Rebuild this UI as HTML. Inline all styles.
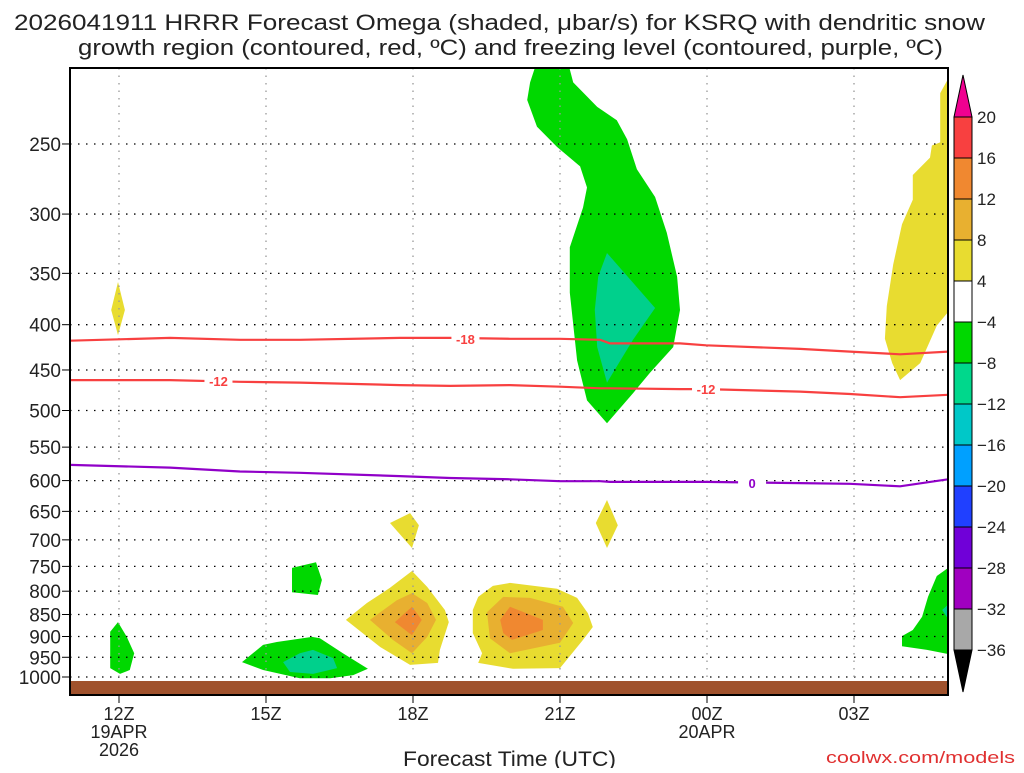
<!DOCTYPE html>
<html><head><meta charset="utf-8"><style>
body{margin:0;background:#fff;}
svg text{font-family:"Liberation Sans","DejaVu Sans",sans-serif;}
</style></head><body>
<svg id="c" width="1024" height="768" xmlns="http://www.w3.org/2000/svg">
<defs><clipPath id="plotclip"><rect x="70" y="68" width="878" height="627"/></clipPath></defs>
<text x="14" y="30" font-size="22" textLength="971" lengthAdjust="spacingAndGlyphs" fill="#222">2026041911 HRRR Forecast Omega (shaded, μbar/s) for KSRQ with dendritic snow</text>
<text x="78" y="55" font-size="22" textLength="865" lengthAdjust="spacingAndGlyphs" fill="#222">growth region (contoured, red, ºC) and freezing level (contoured, purple, ºC)</text>
<g id="shade" clip-path="url(#plotclip)"></g>
<g id="grid"></g>
<g id="lines" clip-path="url(#plotclip)"></g>
<rect x="70" y="681" width="878" height="14" fill="#a0522d"/>
<rect x="70" y="68" width="878" height="627" fill="none" stroke="#000" stroke-width="2"/>
<g id="axes"></g>
<g id="cbar"></g>
<text x="403" y="766" font-size="21" textLength="213" lengthAdjust="spacingAndGlyphs" fill="#222">Forecast Time (UTC)</text>
<text x="826" y="763" font-size="17" textLength="189" lengthAdjust="spacingAndGlyphs" fill="#e03030">coolwx.com/models</text>
</svg>
<script>
// ---- data (hour offset from 12Z 19APR, pressure hPa) ----
const pressureTicks = [250,300,350,400,450,500,550,600,650,700,750,800,850,900,950,1000];
const hourTicks = [0,3,6,9,12,15];
const hourLabels = ["12Z","15Z","18Z","21Z","00Z","03Z"];
const dateLabels = {0:["19APR","2026"],12:["20APR"]};
const cbarLevels = [20,16,12,8,4,-4,-8,-12,-16,-20,-24,-28,-32,-36];
const cbarColors = ["#f84040","#f08830","#e8b030","#e8dc30","#ffffff","#00d800","#00d88c","#00c8c8","#00a0ff","#2040ff","#7000d8","#a000c0","#a8a8a8"];
const yellowAreas = [
 [[-0.02,358],[0.12,385],[-0.02,411],[-0.16,385]],
 [[5.53,670],[5.94,653],[6.12,674],[5.98,715]],
 [[9.96,631],[10.18,674],[9.96,715],[9.73,670]],
 [[5.98,759],[6.29,791],[6.65,840],[6.73,867],[6.55,932],[6.51,964],[5.94,969],[5.33,925],[4.63,862],[5.06,825],[5.53,793]],
 [[7.22,840],[7.33,812],[7.63,789],[7.98,783],[8.94,795],[9.35,814],[9.57,847],[9.67,878],[9.47,908],[9.0,977],[8.04,979],[7.33,964],[7.41,940],[7.22,892]],
 [[16.92,205],[16.92,211],[16.76,219],[16.76,226],[16.76,249],[16.59,251],[16.55,259],[16.2,271],[16.2,289],[15.98,308],[15.8,342],[15.67,381],[15.63,415],[15.78,442],[15.94,462],[16.35,442],[16.69,401],[16.92,387],[17.2,380],[17.2,205]]
];
const amberAreas = [
 [[5.12,862],[5.67,819],[5.98,804],[6.29,825],[6.47,862],[6.29,901],[5.98,940],[5.59,908]],
 [[7.51,845],[7.84,812],[8.39,814],[9.06,833],[9.27,869],[9.0,915],[7.98,940],[7.57,904]]
];
const orangeAreas = [
 [[5.63,867],[5.98,833],[6.18,862],[5.98,897]],
 [[7.78,862],[7.98,833],[8.65,862],[8.65,885],[8.02,908],[7.84,892]]
];
const greenAreas = [
 [[8.55,200],[9.14,200],[9.27,213],[9.76,227],[10.16,235],[10.37,247],[10.57,267],[10.94,287],[11.18,315],[11.39,353],[11.45,385],[11.31,424],[10.84,453],[10.49,478],[9.96,517],[9.55,487],[9.35,439],[9.2,368],[9.2,327],[9.47,295],[9.55,280],[9.41,265],[8.94,252],[8.53,239],[8.33,223],[8.39,213]],
 [[-0.02,867],[0.16,901],[0.31,940],[0.22,982],[0.02,992],[-0.18,977],[-0.18,889]],
 [[2.51,962],[2.94,920],[3.22,913],[3.94,901],[4.10,904],[4.57,940],[5.08,979],[4.78,995],[4.31,1003],[3.69,1003],[2.94,982]],
 [[3.53,753],[4.02,742],[4.14,777],[4.06,808],[3.53,802]],
 [[17.2,750],[16.92,753],[16.69,769],[16.51,812],[16.39,855],[16.2,885],[15.98,899],[15.98,923],[16.49,932],[16.92,942],[17.2,942]]
];
const tealAreas = [
 [[9.96,332],[10.94,383],[10.49,416],[9.96,465],[9.76,424],[9.71,385],[9.78,353]],
 [[3.35,962],[3.69,940],[3.96,932],[4.37,952],[4.45,977],[3.96,992],[3.49,987]],
 [[16.8,840],[16.95,825],[16.95,865]]
];
const lineHours = [-1,1.04,2.47,3.69,5.73,6.76,7.98,9.0,9.82,10.02,11.45,11.98,13.9,14.92,15.94,16.92];
const dgz18 = [417,414,416,416,414,414,415,415,416,420,420,422,426,429,432,429];
const dgz12 = [462,462,464,465,468,469,468,470,472,472,473,473,476,479,483,480];
const frz0  = [576,580,586,588,593,596,598,601,601,602,602,602,604,605,609,598];
const lineLabels = [{h:7.07,p:415,t:"-18",c:"#f84040"},{h:2.03,p:463,t:"-12",c:"#f84040"},{h:11.98,p:473,t:"-12",c:"#f84040"},{h:12.92,p:604,t:"0",c:"#9000c8"}];

// ---- axis functions ----
const X = h => 119 + 49*h;
const Y = p => 677 - 384.5*Math.log(1000/p);
const NS = "http://www.w3.org/2000/svg";
function mk(tag, attrs, parent){const e=document.createElementNS(NS,tag);for(const k in attrs)e.setAttribute(k,attrs[k]);parent.appendChild(e);return e;}
const shade=document.getElementById('shade'), grid=document.getElementById('grid'), lines=document.getElementById('lines'), axes=document.getElementById('axes'), cbar=document.getElementById('cbar');
function areas(list,color,name){list.forEach(poly=>{const pts=poly.map(q=>X(q[0]).toFixed(1)+","+Y(q[1]).toFixed(1)).join(" ");
 const e=mk('polygon',{points:pts,fill:color},shade);
 
 });}
areas(yellowAreas,"#e8dc30","omega-4-8-area");
areas(amberAreas,"#e8b030","omega-8-12-area");
areas(orangeAreas,"#f08830","omega-12-16-area");
areas(greenAreas,"#00d800","omega-neg4-neg8-area");
areas(tealAreas,"#00d08c","omega-neg8-neg12-area");
// grid
pressureTicks.forEach(p=>{const y=Y(p);
 const g=mk('line',{x1:70,x2:948,y1:y,y2:y,stroke:"#000","stroke-width":1.3,"stroke-dasharray":"1.5,6.5"},grid);
 
 
 const t=mk('line',{x1:62,x2:70,y1:y,y2:y,stroke:"#000","stroke-width":1},axes);
 
 
 const l=mk('text',{x:61,y:y+7,"font-size":19,"text-anchor":"end",fill:"#222"},axes);l.textContent=p;
 
 });
hourTicks.forEach((h,i)=>{const x=X(h);
 const g=mk('line',{x1:x,x2:x,y1:68,y2:695,stroke:"#999","stroke-width":1.3,"stroke-dasharray":"1.5,6"},grid);
 
 
 const t=mk('line',{x1:x,x2:x,y1:695,y2:703,stroke:"#000","stroke-width":1},axes);
 
 
 const l=mk('text',{x:x,y:720,"font-size":18,"text-anchor":"middle",fill:"#222"},axes);l.textContent=hourLabels[i];
 
 
 (dateLabels[h]||[]).forEach((d,j)=>{const dl=mk('text',{x:x,y:738+j*18,"font-size":18,"text-anchor":"middle",fill:"#222"},axes);dl.textContent=d;
  
  });});
// contour lines
function cline(vals,color,name){const d=lineHours.map((h,i)=>(i?"L":"M")+X(h).toFixed(1)+","+Y(vals[i]).toFixed(1)).join(" ");
 const e=mk('path',{d:d,fill:"none",stroke:color,"stroke-width":2.2},lines);
 
 }
cline(dgz18,"#f84040","dgz-minus18-line");
cline(dgz12,"#f84040","dgz-minus12-line");
cline(frz0,"#9000c8","freezing-level-line");
lineLabels.forEach(L=>{const x=X(L.h),y=Y(L.p);
 mk('rect',{x:x-14,y:y-7,width:28,height:14,fill:"#fff"},lines);
 const t=mk('text',{x:x,y:y+5,"font-size":13,"font-weight":"bold","text-anchor":"middle",fill:L.c},lines);t.textContent=L.t;
 
 });
// colorbar
const cbTop=117, cbStep=41, cbX=954, cbW=18;
cbarColors.forEach((c,i)=>{const r=mk('rect',{x:cbX,y:cbTop+i*cbStep,width:cbW,height:cbStep,fill:c,stroke:"#000","stroke-width":1},cbar);
 
 });
const up=mk('polygon',{points:`${cbX},${cbTop} ${cbX+cbW},${cbTop} ${cbX+cbW/2},${cbTop-42}`,fill:"#f00090",stroke:"#000","stroke-width":1},cbar);


const yb=cbTop+cbarColors.length*cbStep;
const dn=mk('polygon',{points:`${cbX},${yb} ${cbX+cbW},${yb} ${cbX+cbW/2},${yb+42}`,fill:"#000",stroke:"#000","stroke-width":1},cbar);


cbarLevels.forEach((v,i)=>{const t=mk('text',{x:977,y:cbTop+i*cbStep+6,"font-size":17,fill:"#222"},cbar);t.textContent=v<0?"\u2212"+(-v):v;
 
 });
</script>
</body></html>
